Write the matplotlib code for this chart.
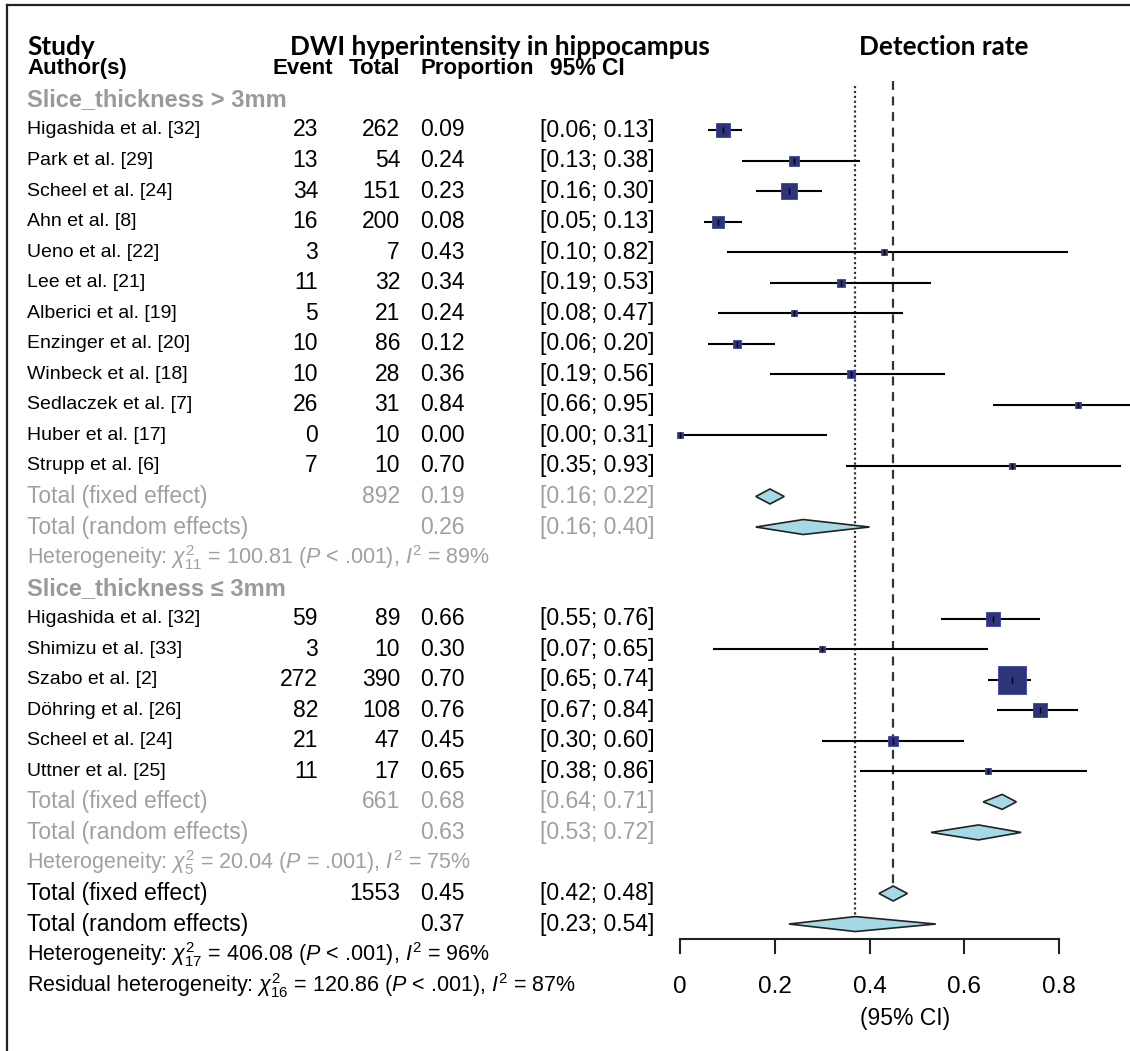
import numpy as np
import matplotlib
matplotlib.use("Agg")
import matplotlib.pyplot as plt
from matplotlib.patches import Polygon
from matplotlib.lines import Line2D

plt.rcParams['mathtext.fontset'] = 'custom'
plt.rcParams['mathtext.rm'] = 'Liberation Sans'
plt.rcParams['mathtext.it'] = 'Liberation Sans:italic'

# ---- data ----
studies_a = ["Higashida et al. [32]", "Park et al. [29]", "Scheel et al. [24]",
             "Ahn et al. [8]", "Ueno et al. [22]", "Lee et al. [21]",
             "Alberici et al. [19]", "Enzinger et al. [20]", "Winbeck et al. [18]",
             "Sedlaczek et al. [7]", "Huber et al. [17]", "Strupp et al. [6]"]
events_a = [23, 13, 34, 16, 3, 11, 5, 10, 10, 26, 0, 7]
totals_a = [262, 54, 151, 200, 7, 32, 21, 86, 28, 31, 10, 10]
prop_a = [0.09, 0.24, 0.23, 0.08, 0.43, 0.34, 0.24, 0.12, 0.36, 0.84, 0.00, 0.70]
lo_a = [0.06, 0.13, 0.16, 0.05, 0.10, 0.19, 0.08, 0.06, 0.19, 0.66, 0.00, 0.35]
hi_a = [0.13, 0.38, 0.30, 0.13, 0.82, 0.53, 0.47, 0.20, 0.56, 0.95, 0.31, 0.93]

studies_b = ["Higashida et al. [32]", "Shimizu et al. [33]", "Szabo et al. [2]",
             "Döhring et al. [26]", "Scheel et al. [24]", "Uttner et al. [25]"]
events_b = [59, 3, 272, 82, 21, 11]
totals_b = [89, 10, 390, 108, 47, 17]
prop_b = [0.66, 0.30, 0.70, 0.76, 0.45, 0.65]
lo_b = [0.55, 0.07, 0.65, 0.67, 0.30, 0.38]
hi_b = [0.76, 0.65, 0.74, 0.84, 0.60, 0.86]

# summaries: (n, est, lo, hi)
fixed_a = (892, 0.19, 0.16, 0.22)
random_a = (None, 0.26, 0.16, 0.40)
fixed_b = (661, 0.68, 0.64, 0.71)
random_b = (None, 0.63, 0.53, 0.72)
fixed_all = (1553, 0.45, 0.42, 0.48)
random_all = (None, 0.37, 0.23, 0.54)

het_a = r"Heterogeneity: $\chi^2_{11}$ = 100.81 ($P$ < .001), $I^2$ = 89%"
het_b = r"Heterogeneity: $\chi^2_{5}$ = 20.04 ($P$ = .001), $I^2$ = 75%"
het_all = r"Heterogeneity: $\chi^2_{17}$ = 406.08 ($P$ < .001), $I^2$ = 96%"
het_res = r"Residual heterogeneity: $\chi^2_{16}$ = 120.86 ($P$ < .001), $I^2$ = 87%"

xticks = [0, 0.2, 0.4, 0.6, 0.8]
xticklabels = ["0", "0.2", "0.4", "0.6", "0.8"]

# ---- layout helpers ----
W, H = 1130, 1051
X0, XS = 680, 473.75      # pixel of x=0, pixels per unit
Y0, YS = 130, 30.54       # pixel of row 0, pixels per row


def px(x):
    return (x - X0) / XS


def row_of(y):
    return (y - Y0) / YS


GRAY = '#a0a0a0'
NAVY = '#2e3478'
DIA = '#a6d9e6'
BODY = 'Liberation Sans'
NAME = 'Liberation Sans'
HEAD = 'Lato'

fig = plt.figure(figsize=(W / 100, H / 100), dpi=100)
ax = fig.add_axes([0, 0, 1, 1])
ax.set_xlim(px(0), px(W))
ax.set_ylim(row_of(H), row_of(0))
ax.axis('off')

# frame
fig.add_artist(Line2D([7 / W, 1], [1 - 5 / H, 1 - 5 / H], color='#222222', lw=1.6))
fig.add_artist(Line2D([7 / W, 7 / W], [0, 1 - 5 / H], color='#222222', lw=1.6))

# headers
ax.text(px(27), row_of(47), "Study", fontsize=18.8, fontweight='bold', family=HEAD, va='center')
ax.text(px(290), row_of(47), "DWI hyperintensity in hippocampus", fontsize=18.8,
        fontweight='bold', family=HEAD, va='center')
ax.text(px(944), row_of(47), "Detection rate", fontsize=18.8, fontweight='bold',
        family=HEAD, va='center', ha='center')
ax.text(px(27), -2, "Author(s)", fontsize=16, fontweight='bold', family=NAME, va='center')
ax.text(px(333), -2, "Event", fontsize=16, fontweight='bold', family=NAME, va='center', ha='right')
ax.text(px(400), -2, "Total", fontsize=16, fontweight='bold', family=NAME, va='center', ha='right')
ax.text(px(420), -2, "Proportion", fontsize=16, fontweight='bold', family=NAME, va='center')
ax.text(px(550), -2, "95% CI", fontsize=16.5, fontweight='bold', family=NAME, va='center')


def study_rows(start, names, ev, tot, p, lo, hi):
    for i in range(len(names)):
        r = start + i
        ax.text(px(27), r, names[i], fontsize=14, family=NAME, va='center')
        ax.text(px(318), r, str(ev[i]), fontsize=16.5, family=BODY, va='center', ha='right')
        ax.text(px(400), r, str(tot[i]), fontsize=16.5, family=BODY, va='center', ha='right')
        ax.text(px(420), r, f"{p[i]:.2f}", fontsize=16.5, family=BODY, va='center')
        ax.text(px(540), r, f"[{lo[i]:.2f}; {hi[i]:.2f}]", fontsize=16.5, family=BODY, va='center')
        ax.plot([lo[i], hi[i]], [r, r], color='black', lw=1.5, solid_capstyle='butt', zorder=3)
        # box area proportional to inverse-variance weight
        e = ev[i] if ev[i] > 0 else 0.5
        w = e * (tot[i] - e) / tot[i]
        side = max(3.0 * np.sqrt(w), 5.5)
        ax.scatter([p[i]], [r], marker='s', s=(side * 0.72) ** 2, color=NAVY,
                   edgecolors='#3a44a0', linewidths=0.6, zorder=4)
        ax.plot([p[i]], [r], marker='|', ms=5, mew=1.0, color='black', zorder=5)


def summary_row(r, label, s, color):
    n, est, lo, hi = s
    ax.text(px(27), r, label, fontsize=16.5, family=BODY, va='center', color=color)
    if n is not None:
        ax.text(px(400), r, str(n), fontsize=16.5, family=BODY, va='center', ha='right', color=color)
    ax.text(px(420), r, f"{est:.2f}", fontsize=16.5, family=BODY, va='center', color=color)
    ax.text(px(540), r, f"[{lo:.2f}; {hi:.2f}]", fontsize=16.5, family=BODY, va='center', color=color)
    h = 7.5 / YS
    ax.add_patch(Polygon([(lo, r), (est, r - h), (hi, r), (est, r + h)], closed=True,
                         facecolor=DIA, edgecolor='#222222', lw=1.2, zorder=4))


# group 1
ax.text(px(27), -1, "Slice_thickness > 3mm", fontsize=17, fontweight='bold', family=BODY,
        va='center', color='#9a9a9a')
study_rows(0, studies_a, events_a, totals_a, prop_a, lo_a, hi_a)
summary_row(12, "Total (fixed effect)", fixed_a, GRAY)
summary_row(13, "Total (random effects)", random_a, GRAY)
ax.text(px(27), 14, het_a, fontsize=15.5, family=BODY, va='center', color=GRAY)

# group 2
ax.text(px(27), 15, "Slice_thickness \u2264 3mm", fontsize=17, fontweight='bold', family=BODY,
        va='center', color='#9a9a9a')
study_rows(16, studies_b, events_b, totals_b, prop_b, lo_b, hi_b)
summary_row(22, "Total (fixed effect)", fixed_b, GRAY)
summary_row(23, "Total (random effects)", random_b, GRAY)
ax.text(px(27), 24, het_b, fontsize=15.5, family=BODY, va='center', color=GRAY)

# overall
summary_row(25, "Total (fixed effect)", fixed_all, 'black')
summary_row(26, "Total (random effects)", random_all, 'black')
ax.text(px(27), 27, het_all, fontsize=15.5, family=BODY, va='center')
ax.text(px(27), 28, het_res, fontsize=15.5, family=BODY, va='center')

# reference lines
h = 7.5 / YS
ax.plot([random_all[1]] * 2, [-1.45, 26 - h], color='#333333', lw=1.6, ls=(0, (1, 1.2)), zorder=2)
ax.plot([fixed_all[1]] * 2, [-1.6, 25 - h - 0.05], color='#333333', lw=1.6, ls=(0, (4, 3)), zorder=2)

# x axis
ya = row_of(939)
ax.plot([xticks[0], xticks[-1]], [ya, ya], color='#222222', lw=1.5)
for t, lab in zip(xticks, xticklabels):
    ax.plot([t, t], [ya, row_of(953)], color='#222222', lw=1.5)
    ax.text(t, row_of(987), lab, fontsize=17.5, family=BODY, ha='center', va='center')
ax.text(px(905), row_of(1018), "(95% CI)", fontsize=16.5, family=BODY, ha='center', va='center')

fig.savefig("out.png", dpi=100)
